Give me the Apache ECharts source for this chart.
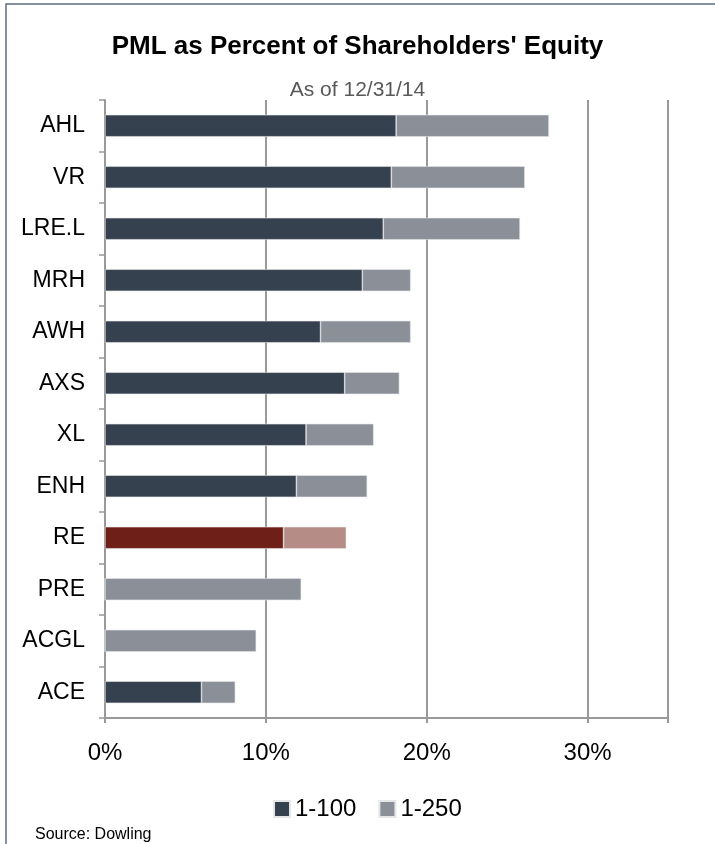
<!DOCTYPE html>
<html>
<head>
<meta charset="utf-8">
<script src="https://cdn.jsdelivr.net/npm/echarts@6/dist/echarts.min.js"></script>
<style>
html,body{margin:0;padding:0;background:#fff;}
#chart{width:715px;height:844px;}
</style>
</head>
<body>
<div id="chart"></div>
<script>
const categories = ['AHL','VR','LRE.L','MRH','AWH','AXS','XL','ENH','RE','PRE','ACGL','ACE'];
const pml100 = [18.1,17.8,17.3,16.0,13.4,14.9,12.5,11.9,11.1,0,0,6.0];
const pml250extra = [9.5,8.3,8.5,3.0,5.6,3.4,4.2,4.4,3.9,12.2,9.4,2.1];
const xTicks = [0,10,20,30];
const highlight = 'RE';

const darkColor = '#36414F';
const greyColor = '#8A8F98';
const hiDark = '#6E1F18';
const hiLight = '#B68C86';

const chart = echarts.init(document.getElementById('chart'));
const font = 'Liberation Sans, Arial, sans-serif';

function makeData(vals, normal, hi) {
  return vals.map((v, i) => categories[i] === highlight
    ? {value: v, itemStyle: {color: hi}}
    : {value: v, itemStyle: {color: normal}});
}

chart.setOption({
  animation: false,
  textStyle: {fontFamily: font},
  title: [
    {text: "PML as Percent of Shareholders' Equity", left: 'center', top: 29,
     textStyle: {fontSize: 26, fontWeight: 'bold', color: '#000', fontFamily: font}},
    {text: 'As of 12/31/14', left: 'center', top: 75,
     textStyle: {fontSize: 21, fontWeight: 'normal', color: '#595959', fontFamily: font}},
    {text: 'Source: Dowling', left: 30, top: 822,
     textStyle: {fontSize: 16, fontWeight: 'normal', color: '#000', fontFamily: font}}
  ],
  graphic: [{
    type: 'rect', shape: {x: 6, y: 4, width: 720, height: 860},
    style: {fill: 'none', stroke: '#5f6d80', lineWidth: 1.5}, silent: true
  }],
  legend: {
    data: ['1-100', '1-250'], left: 268, top: 792,
    icon: 'rect', itemWidth: 16, itemHeight: 16, itemGap: 22,
    textStyle: {fontSize: 24, color: '#000', fontFamily: font, padding: [0,0,0,0]}
  },
  grid: {left: 105, right: 47, top: 100, bottom: 126, containLabel: false},
  xAxis: {
    type: 'value', min: 0, max: 35, interval: 10,
    axisLine: {show: true, lineStyle: {color: '#999', width: 2}},
    axisTick: {show: true, length: 5, lineStyle: {color: '#999', width: 2}},
    splitLine: {show: true, lineStyle: {color: '#999', width: 2}},
    axisLabel: {formatter: v => xTicks.includes(v) ? v + '%' : '', fontSize: 24, color: '#000', margin: 23, fontFamily: font}
  },
  yAxis: {
    type: 'category', data: categories, inverse: true,
    axisLine: {show: true, lineStyle: {color: '#999', width: 2}},
    axisTick: {show: true, length: 6, lineStyle: {color: '#999', width: 1.5}},
    axisLabel: {fontSize: 23, color: '#000', margin: 20, fontFamily: font}
  },
  series: [
    {name: '1-100', type: 'bar', stack: 'pml', barWidth: 22,
     itemStyle: {color: darkColor, borderColor: '#e6e6e6', borderWidth: 0.6},
     data: makeData(pml100, darkColor, hiDark)},
    {name: '1-250', type: 'bar', stack: 'pml', barWidth: 22,
     itemStyle: {color: greyColor, borderColor: '#e6e6e6', borderWidth: 0.6},
     data: makeData(pml250extra, greyColor, hiLight)}
  ]
});
</script>
</body>
</html>
